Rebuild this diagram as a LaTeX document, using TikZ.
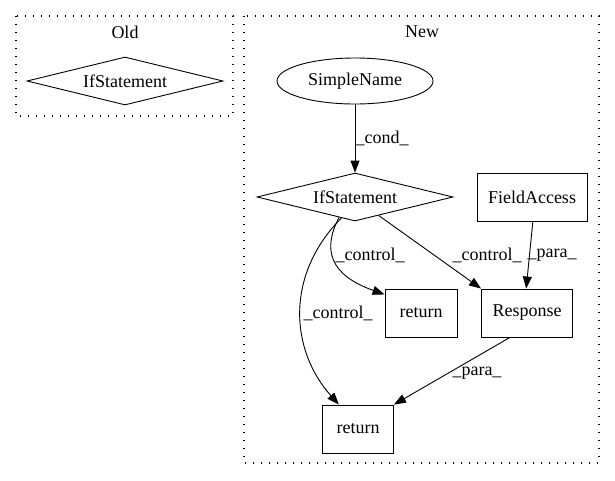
\documentclass[tikz,border=0pt]{standalone}
\usepackage{fontspec}
\setmainfont{Liberation Serif}
\usetikzlibrary{shapes.geometric,arrows.meta}
\tikzset{every path/.style={line width=0.9pt},
  box/.style={draw,rectangle,minimum height=48pt,font=\fontsize{18}{20}\selectfont},
  cond/.style={draw,diamond,aspect=4,minimum width=196pt,minimum height=48pt,inner sep=0pt,font=\fontsize{18}{20}\selectfont},
  oval/.style={draw,ellipse,minimum width=156pt,minimum height=46pt,inner sep=0pt,font=\fontsize{18}{20}\selectfont},
  lbl/.style={font=\fontsize{18}{20}\selectfont},
  arr/.style={-{Triangle[length=12pt,width=9pt]}},
  cluster/.style={line width=1.2pt,dash pattern=on 1.2pt off 6.8pt}}

\begin{document}
\begin{tikzpicture}[x=1pt,y=-1pt]
\useasboundingbox (0,0) rectangle (615,480);
% clusters
\draw[cluster] (16,16) rectangle (233,116);
\node[lbl] (oldtitle) at (125,32) {Old};
\draw[cluster] (244,16) rectangle (599,463);
\node[lbl] (newtitle) at (422,32) {New};
% nodes
\node[cond] (ifold) at (125,81) {IfStatement};
\node[oval] (sname) at (355,81) {SimpleName};
\node[cond] (ifnew) at (355,197) {IfStatement};
\node[box,minimum width=110pt] (field) at (532,197) {FieldAccess};
\node[box,minimum width=72pt] (retA) at (421,313) {return};
\node[box,minimum width=91pt] (resp) at (527,313) {Response};
\node[box,minimum width=71pt] (retB) at (358,429) {return};
% edges
\draw[arr] (sname) -- (ifnew);
\node[lbl] (lcond) at (382,138) {\_cond\_};
\draw[arr] (ifnew.-128) .. controls (322,250) and (330,275) .. (retA.153);
\node[lbl] (lctlA) at (370,255) {\_control\_};
\draw[arr] (ifnew.-123) .. controls (285,275) and (290,350) .. (retB.128);
\node[lbl] (lctlB) at (338,313) {\_control\_};
\draw[arr] (ifnew.-38) -- (resp.north west);
\node[lbl] (lctlC) at (487,255) {\_control\_};
\draw[arr] (field.-88) -- (resp.92);
\node[lbl] (lparaA) at (552,255) {\_para\_};
\draw[arr] (resp.-125) -- (retB.north east);
\node[lbl] (lparaB) at (477,373) {\_para\_};
\end{tikzpicture}
\end{document}
